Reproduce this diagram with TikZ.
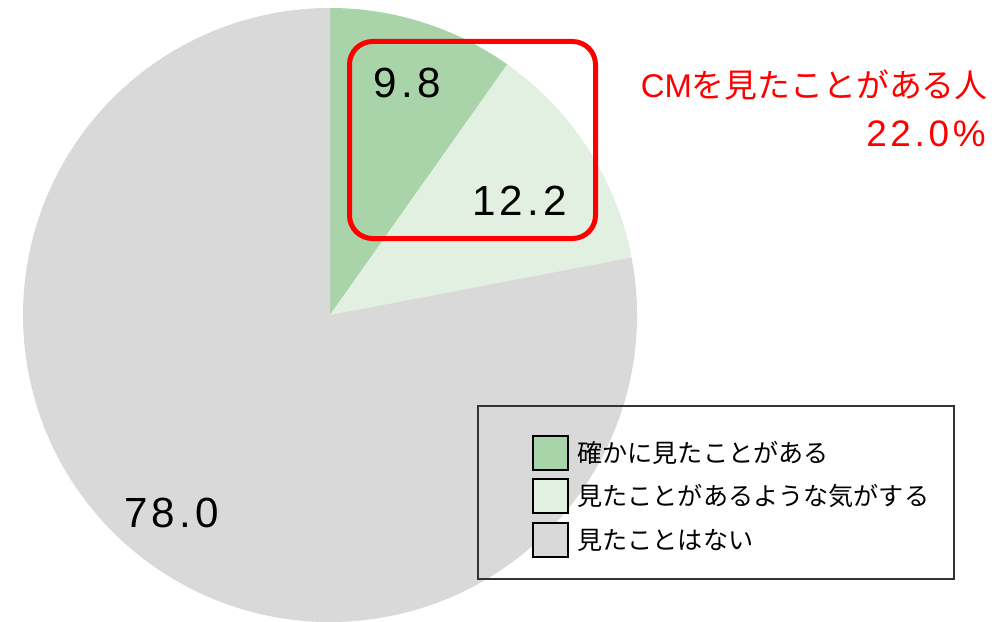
\documentclass[tikz,border=0pt]{standalone}
\usepackage{fontspec}
\setmainfont{Liberation Sans}
\newfontfamily\jpfont{Noto Sans CJK JP}
\newfontfamily\numfont[LetterSpace=10]{Liberation Sans}
\usepackage{tikz}

\definecolor{seensure}{HTML}{A9D4A9}
\definecolor{seenmaybe}{HTML}{E1F0E1}
\definecolor{seennever}{HTML}{D9D9D9}
\definecolor{cmred}{HTML}{FF0000}

\tikzset{
  share/.style={font=\numfont\fontsize{24}{28}\selectfont, inner sep=0pt},
  redtxt/.style={text=cmred, inner sep=0pt, font=\fontsize{18.7}{24}\selectfont},
  redpct/.style={text=cmred, inner sep=0pt, font=\numfont\fontsize{21}{26}\selectfont},
  swatch/.style={draw=black, line width=0.4mm, minimum width=7mm, minimum height=6.8mm, inner sep=0pt},
  legtxt/.style={font=\jpfont\fontsize{14.3}{17}\selectfont, inner sep=0pt, anchor=west}
}

\begin{document}
\begin{tikzpicture}[x=0.2mm,y=0.2mm]

\useasboundingbox (0,0) rectangle (1006,621);

    \coordinate (c) at (330,306);
    % pie slices, clockwise from the top
    \fill[seensure]  (c) -- ++(90:307) arc[start angle=90, end angle=54.72, radius=307] -- cycle;  % 9.8
    \fill[seenmaybe] (c) -- ++(54.72:307) arc[start angle=54.72, end angle=10.8, radius=307] -- cycle; % 12.2
    \fill[seennever] (c) -- ++(10.8:307) arc[start angle=10.8, end angle=-270, radius=307] -- cycle; % 78.0

    \node[share] (v1) at (407.5,538.5) {9.8};
    \node[share] (v2) at (519.5,420) {12.2};
    \node[share] (v3) at (171.5,108.5) {78.0};

    % highlight of both green slices
    \draw[cmred, line width=1mm, rounded corners=4.6mm] (349.5,382.5) rectangle (595.5,579.5);

    \node[redtxt, anchor=base east] (cm) at (988,523) {CM{\jpfont を見たことがある人}};
    \node[redpct, anchor=base east] (pct) at (986,474) {22.0\%};

    % legend
    \draw[black!80, line width=0.3mm] (478,42) rectangle (954,215);
    \node[swatch, fill=seensure]  (s1) at (550.5,168) {};
    \node[swatch, fill=seenmaybe] (s2) at (550.5,125) {};
    \node[swatch, fill=seennever] (s3) at (550.5,81) {};
    \node[legtxt] (t1) at (577,168) {確かに見たことがある};
    \node[legtxt] (t2) at (577,125) {見たことがあるような気がする};
    \node[legtxt] (t3) at (577,81) {見たことはない};

\end{tikzpicture}
\end{document}
